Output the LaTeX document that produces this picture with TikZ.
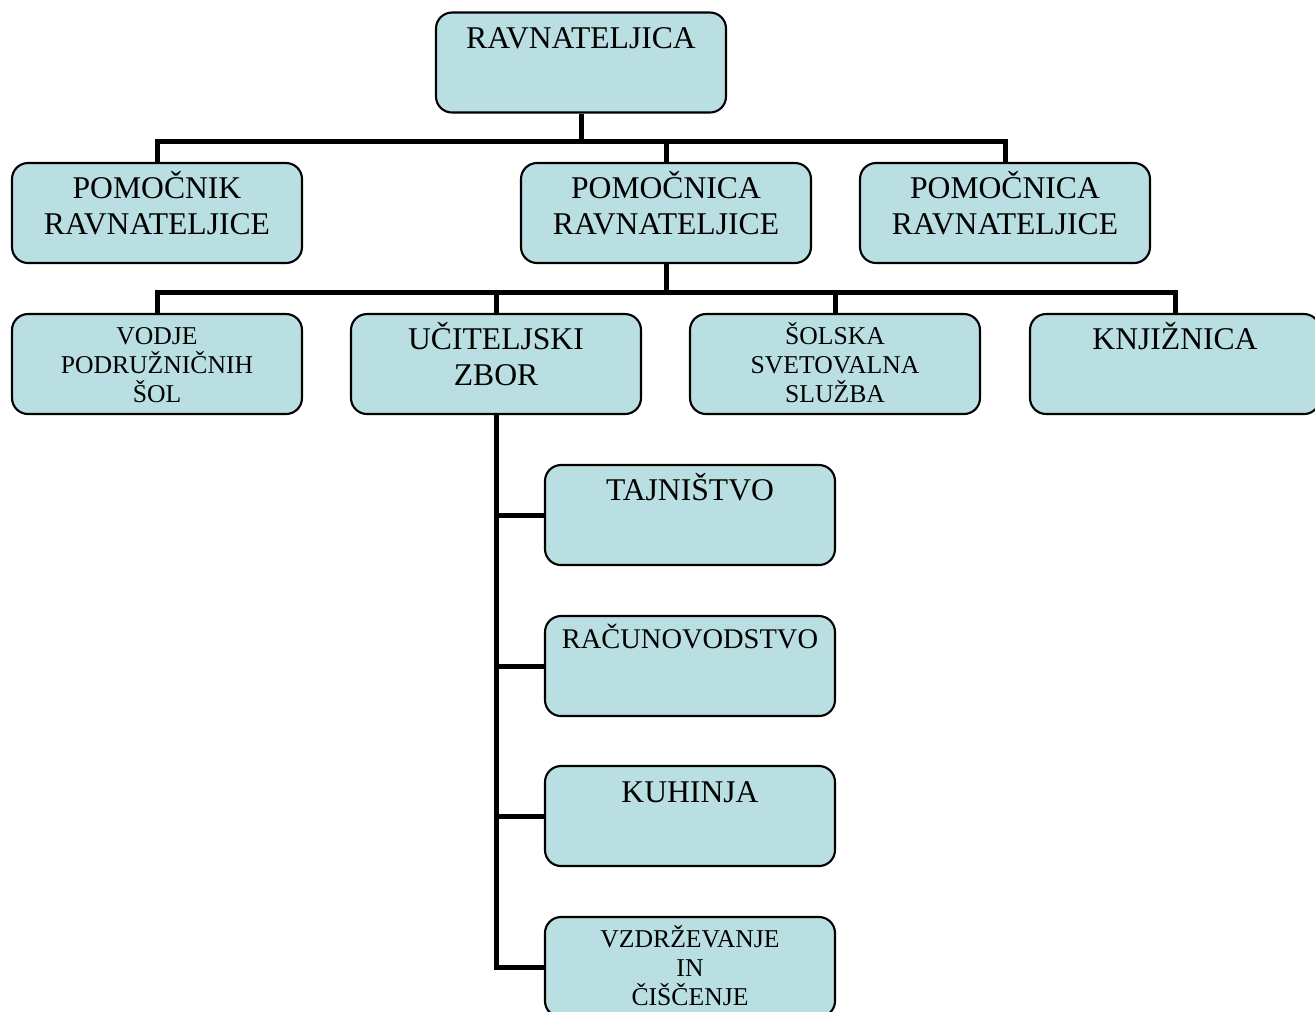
\documentclass[tikz,border=0pt]{standalone}
\usepackage{fontspec}
\setmainfont{Liberation Serif}
\definecolor{boxfill}{HTML}{B9DFE3}

\tikzset{
  unit/.style={draw=black, line width=0.6pt, fill=boxfill, rounded corners=1.6mm,
               minimum width=29mm, minimum height=10mm},
  lbl/.style={anchor=north, align=center, yshift=-0.4mm, font=\fontsize{9}{10.3}\selectfont},
  lblacc/.style={lbl, yshift=0.7mm},
  lblsmall/.style={anchor=north, align=center, yshift=-0.2mm, font=\fontsize{7.3}{8.3}\selectfont},
  lblsmallacc/.style={lblsmall, yshift=0.5mm},
  conn/.style={line width=0.5mm}
}

\begin{document}
\begin{tikzpicture}[x=0.1mm, y=-0.1mm]
\useasboundingbox (0,0) rectangle (1315,1011);

% vodstvo
\node[unit, label={[lbl]north:RAVNATELJICA}] (rav) at (581,62.5) {};

\node[unit, label={[lblacc]north:{POMOČNIK\\RAVNATELJICE}}] (pomA) at (157,213) {};
\node[unit, label={[lblacc]north:{POMOČNICA\\RAVNATELJICE}}] (pomB) at (666,213) {};
\node[unit, label={[lblacc]north:{POMOČNICA\\RAVNATELJICE}}] (pomC) at (1005,213) {};

% tretja vrsta
\node[unit, label={[lblsmall]north:{VODJE\\PODRUŽNIČNIH\\ŠOL}}] (vod) at (157,364) {};
\node[unit, label={[lblacc]north:{UČITELJSKI\\ZBOR}}] (uci) at (496,364) {};
\node[unit, label={[lblsmallacc]north:{ŠOLSKA\\SVETOVALNA\\SLUŽBA}}] (sol) at (835,364) {};
\node[unit, label={[lblacc]north:KNJIŽNICA}] (knj) at (1175,364) {};

% stolpec
\node[unit, label={[lblacc]north:TAJNIŠTVO}] (taj) at (690,515) {};
\node[unit, label={[lblacc, font=\fontsize{8.1}{9.5}\selectfont]north:RAČUNOVODSTVO}] (rac) at (690,666) {};
\node[unit, label={[lbl]north:KUHINJA}] (kuh) at (690,816) {};
\node[unit, label={[lblsmallacc]north:{VZDRŽEVANJE\\IN\\ČIŠČENJE}}] (vzd) at (690,967) {};

% povezave
\draw[conn] (rav.south) -- ++(0,28) coordinate (j1);
\draw[conn] (pomA.north) |- (j1) -| (pomC.north);
\draw[conn] (pomB.north) -- (pomB.north |- j1);

\draw[conn] (pomB.south) -- ++(0,28) coordinate (j2);
\draw[conn] (vod.north) |- (j2) -| (knj.north);
\draw[conn] (uci.north) -- (uci.north |- j2);
\draw[conn] (sol.north) -- (sol.north |- j2);

\draw[conn] (uci.south) |- (vzd.west);
\draw[conn] (taj.west) -- (taj.west -| uci.south);
\draw[conn] (rac.west) -- (rac.west -| uci.south);
\draw[conn] (kuh.west) -- (kuh.west -| uci.south);
\end{tikzpicture}
\end{document}
